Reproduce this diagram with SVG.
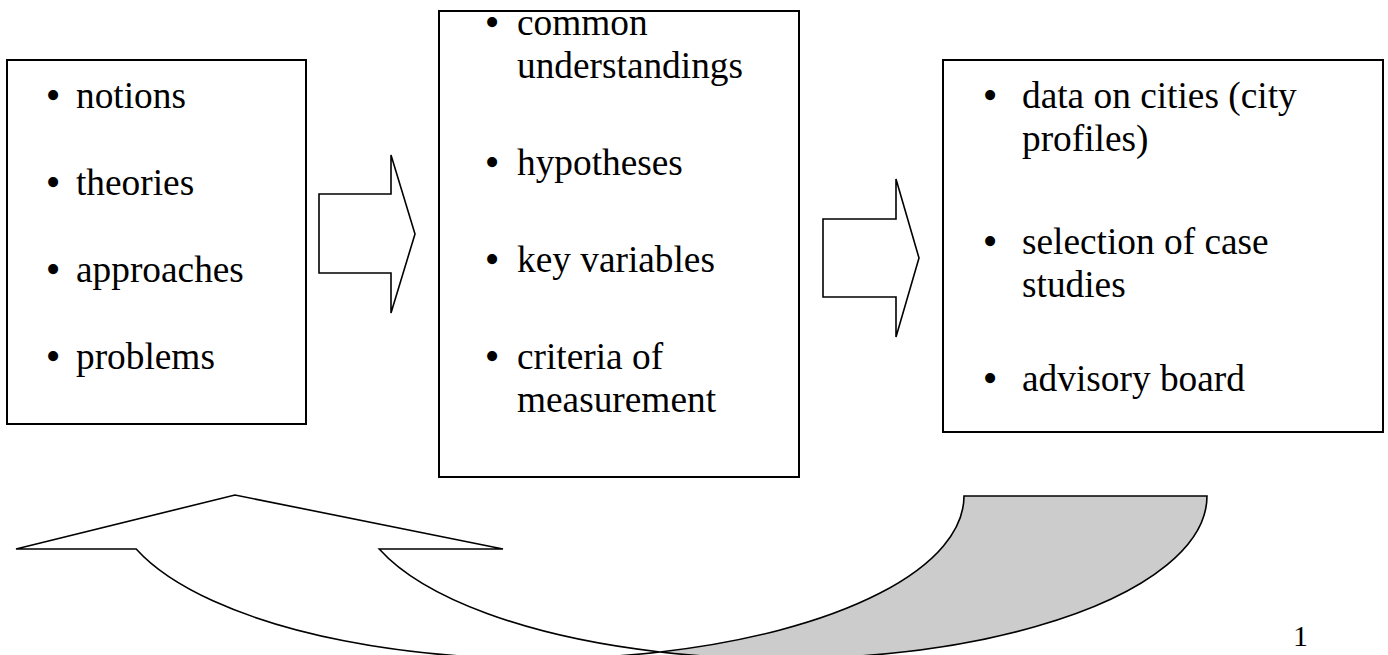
<svg xmlns="http://www.w3.org/2000/svg" width="1388" height="655" viewBox="0 0 1388 655">
<style>
.box{fill:#fff;stroke:#000;stroke-width:2}
.arr{fill:#fff;stroke:#000;stroke-width:1.6;stroke-linejoin:miter}
.t{font-family:"Liberation Serif","Times New Roman",serif;font-size:37.33px;fill:#000}
.b{font-family:"Liberation Serif","Times New Roman",serif;font-size:42px;fill:#000;text-anchor:middle}
</style>
<rect width="1388" height="655" fill="#fff"/>
<g id="node-left">
<rect class="box" x="7" y="60" width="299" height="364"/>
<text class="b" x="53" y="109">•</text><text class="t" x="76" y="108">notions</text>
<text class="b" x="53" y="196">•</text><text class="t" x="76" y="195">theories</text>
<text class="b" x="53" y="283">•</text><text class="t" x="76" y="282">approaches</text>
<text class="b" x="53" y="370">•</text><text class="t" x="76" y="369">problems</text>
</g>
<g id="node-middle">
<rect class="box" x="439" y="11" width="360" height="466"/>
<text class="b" x="492" y="36">•</text><text class="t" x="517" y="35">common</text>
<text class="t" x="517" y="78">understandings</text>
<text class="b" x="492" y="176">•</text><text class="t" x="517" y="175">hypotheses</text>
<text class="b" x="492" y="273">•</text><text class="t" x="517" y="272">key variables</text>
<text class="b" x="492" y="370">•</text><text class="t" x="517" y="369">criteria of</text>
<text class="t" x="517" y="412">measurement</text>
</g>
<g id="node-right">
<rect class="box" x="943" y="60" width="440" height="372"/>
<text class="b" x="990" y="109">•</text><text class="t" x="1022" y="108">data on cities (city</text>
<text class="t" x="1022" y="151">profiles)</text>
<text class="b" x="990" y="255">•</text><text class="t" x="1022" y="254">selection of case</text>
<text class="t" x="1022" y="297">studies</text>
<text class="b" x="990" y="392">•</text><text class="t" x="1022" y="391">advisory board</text>
</g>
<g id="connectors">
<polygon class="arr" points="319,194 391,194 391,155 415,234 391,313 391,273 319,273"/>
<polygon class="arr" points="823,219 896,219 896,179 919,258 896,337 896,297 823,297"/>
<path class="arr" style="fill:#ccc" d="M660,652 A425.5,162.8 0 0 0 964,496 L1207,496 A425.5,162.8 0 0 1 660,652 Z"/>
<path class="arr" d="M379.2,549 L503,549 L235,495 L16,549 L136.2,549 A425.5,162.8 0 0 0 660,652 A425.5,162.8 0 0 1 379.2,549 Z"/>
</g>
<text class="t" style="font-size:30px" x="1293" y="646">1</text>
</svg>
